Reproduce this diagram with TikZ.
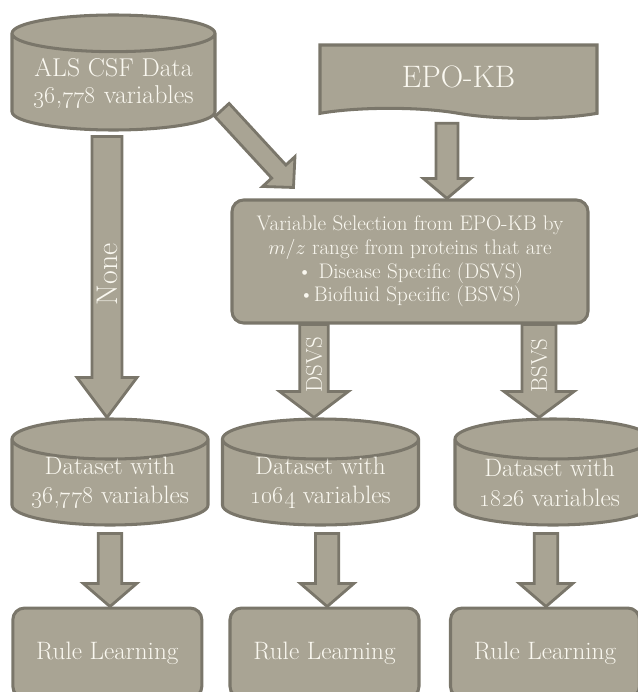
\documentclass[tikz,border=0pt]{standalone}
\usetikzlibrary{shapes.geometric, shapes.symbols, positioning, calc}

\definecolor{taupe}{RGB}{169,164,148}
\definecolor{taupedark}{RGB}{122,118,106}
\definecolor{cream}{RGB}{250,248,240}

% block arrow: from, to, half shaft, half head, head length
\newcommand{\fatarrow}[5]{%
  \coordinate (tiphead) at ($(#2)!#5!(#1)$);
  \draw[fat] ($(#1)!#3!90:(#2)$) -- ($(tiphead)!#3!90:(#2)$) -- ($(tiphead)!#4!90:(#2)$) -- (#2)
    -- ($(tiphead)!#4!-90:(#2)$) -- ($(tiphead)!#3!-90:(#2)$) -- ($(#1)!#3!-90:(#2)$) -- cycle;
}

\begin{document}
\begin{tikzpicture}[
        db/.style={cylinder, shape border rotate=90, aspect=1.2, inner xsep=0.5cm, anchor=shape center, draw=taupedark, fill=taupe, line width=2.6pt},
        box/.style={rectangle, rounded corners=0.35cm, draw=taupedark, fill=taupe, line width=2.6pt, text=cream, align=center},
        txt/.style={text=cream, align=center, font=\fontsize{21.5}{25.5}\selectfont},
        fat/.style={draw=taupedark, fill=taupe, line width=2.4pt},
        lbl/.style={text=cream, rotate=90, font=\fontsize{19.5}{22}\selectfont}
    ]
        \useasboundingbox (0,0) rectangle (19.11,-20.76);

        \node[db, aspect=1.1, minimum width=6.09cm, minimum height=3.45cm] (als) at (3.405,-2.175) {};
        \node[txt, font=\fontsize{22}{23}\selectfont] (alstext) at ([yshift=-0.34cm]als.shape center) {ALS CSF Data\\\oldstylenums{36},\oldstylenums{778} variables};
        \node[tape, tape bend top=none, tape bend bottom=out and in, tape bend height=0.3cm, draw=taupedark, fill=taupe, line width=2.6pt, minimum width=8.31cm, minimum height=2.2cm, text=cream, font=\fontsize{26.5}{30}\selectfont] (epo) at (13.755,-2.3) {EPO-KB};
        \node[box, minimum width=10.68cm, minimum height=3.69cm, font=\fontsize{18}{20.2}\selectfont] (varsel) at (12.3,-7.845) {Variable Selection from EPO-KB by\\$m/z$ range from proteins that are\\\textbullet{} Disease Specific (DSVS)\\\textbullet Biofluid Specific (BSVS)};

        \node[db, minimum width=5.88cm, minimum height=3.18cm] (ds1) at (3.3,-14.16) {};
        \node[db, minimum width=5.88cm, minimum height=3.18cm] (ds2) at (9.615,-14.16) {};
        \node[db, minimum width=5.88cm, minimum height=3.18cm] (ds3) at (16.59,-14.16) {};
        \node[txt] (ds1text) at ([yshift=-0.32cm]ds1.shape center) {Dataset with\\\oldstylenums{36},\oldstylenums{778} variables};
        \node[txt] (ds2text) at ([yshift=-0.32cm]ds2.shape center) {Dataset with\\\oldstylenums{1064} variables};
        \node[txt] (ds3text) at ([yshift=-0.32cm,xshift=-0.1cm]ds3.shape center) {Dataset with\\\oldstylenums{1826} variables};

        \node[box, minimum width=5.67cm, minimum height=2.7cm, font=\fontsize{21.5}{23}\selectfont, below=2.4cm of ds1, xshift=-0.08cm] (rule1) {Rule Learning};
        \node[box, minimum width=5.67cm, minimum height=2.7cm, font=\fontsize{21.5}{23}\selectfont, below=2.4cm of ds2, xshift=0.12cm] (rule2) {Rule Learning};
        \node[box, minimum width=5.67cm, minimum height=2.7cm, font=\fontsize{21.5}{23}\selectfont, below=2.4cm of ds3, xshift=-0.24cm] (rule3) {Rule Learning};

        % arrow ends
        \coordinate (none0) at ([xshift=-0.195cm, yshift=-0.15cm]als.south);
        \coordinate (none1) at (none0 |- ds1.north);
        \coordinate (diag0) at ([shift={(3.255,-1.125)}]als.shape center);
        \coordinate (diag1) at ([shift={(1.89,0.33)}]varsel.north west);
        \coordinate (epo1) at ([xshift=1.11cm]varsel.north);
        \coordinate (epo0) at ($(epo1 |- epo.south)+(0,-0.4)$);
        \coordinate (dsvs0) at ([xshift=-2.88cm]varsel.south);
        \coordinate (dsvs1) at (dsvs0 |- ds2.north);
        \coordinate (bsvs0) at ([xshift=3.87cm]varsel.south);
        \coordinate (bsvs1) at (bsvs0 |- ds3.north);
        \coordinate (low10) at ([yshift=-0.21cm]ds1.south);
        \coordinate (low11) at (low10 |- rule1.north);
        \coordinate (low20) at ([xshift=0.2cm, yshift=-0.21cm]ds2.south);
        \coordinate (low21) at (low20 |- rule2.north);
        \coordinate (low30) at ([xshift=-0.21cm, yshift=-0.21cm]ds3.south);
        \coordinate (low31) at (low30 |- rule3.north);

        \fatarrow{none0}{none1}{0.45cm}{0.9cm}{1.2cm}
        \fatarrow{diag0}{diag1}{0.29cm}{0.66cm}{0.65cm}
        \fatarrow{epo0}{epo1}{0.33cm}{0.71cm}{0.6cm}
        \fatarrow{dsvs0}{dsvs1}{0.43cm}{1.03cm}{0.78cm}
        \fatarrow{bsvs0}{bsvs1}{0.51cm}{1.05cm}{0.78cm}
        \fatarrow{low10}{low11}{0.35cm}{0.8cm}{0.69cm}
        \fatarrow{low20}{low21}{0.35cm}{0.8cm}{0.69cm}
        \fatarrow{low30}{low31}{0.35cm}{0.8cm}{0.69cm}

        \node[lbl, font=\fontsize{25.5}{27}\selectfont] (nonelabel) at ($(none0)!0.49!(none1)$) {None};
        \node[lbl] (dsvslabel) at ($(dsvs0)!0.43!(dsvs1)$) {DSVS};
        \node[lbl] (bsvslabel) at ($(bsvs0)!0.44!(bsvs1)$) {BSVS};

    \end{tikzpicture}
\end{document}
